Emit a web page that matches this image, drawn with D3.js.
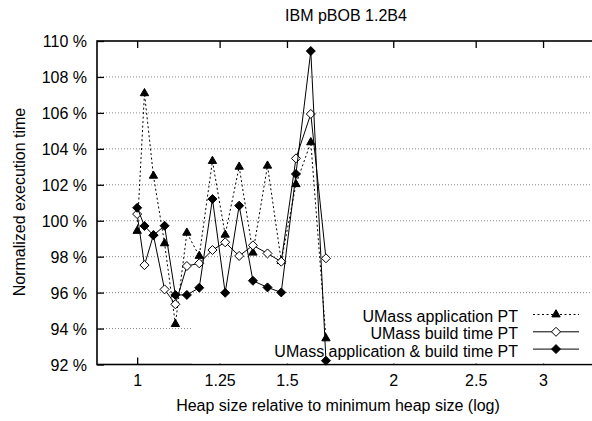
<!DOCTYPE html>
<html>
<head>
<meta charset="utf-8">
<script src="https://cdn.jsdelivr.net/npm/d3@7"></script>
<style>
  body { margin: 0; background: #fff; }
  text { font-family: "Liberation Sans", Arial, Helvetica, sans-serif; font-size: 16px; fill: #000; }
</style>
</head>
<body>
<div id="chart"></div>
<script>
// heap size relative to minimum (x values)
var heap = [1.0, 1.02, 1.045, 1.077, 1.109, 1.144, 1.183, 1.226, 1.269, 1.318, 1.368, 1.423, 1.477, 1.537, 1.600, 1.667];

// normalized execution time (%)
var appPT   = [99.43, 107.09, 102.5, 98.74, 94.25, 99.33, 98.04, 103.32, 99.22, 103.0, 98.22, 103.06, 97.75, 102.03, 104.36, 93.45];
var buildPT = [100.37, 97.53, 99.2, 96.18, 95.35, 97.48, 97.63, 98.37, 98.8, 98.04, 98.63, 98.18, 97.72, 103.47, 105.94, 97.91];
var bothPT  = [100.72, 99.71, 99.19, 99.72, 95.87, 95.87, 96.27, 101.21, 95.99, 100.84, 96.66, 96.29, 96.01, 102.6, 109.44, 92.21];

var seriesNames = ["UMass application PT", "UMass build time PT", "UMass application & build time PT"];
var xTicks = [1, 1.25, 1.5, 2, 2.5, 3];
var yTicks = [92, 94, 96, 98, 100, 102, 104, 106, 108, 110];
var gridTicks = [94, 96, 98, 100, 102, 104, 106, 108];

var W = 592, H = 421;
var plotL = 97, plotR = 600, plotT = 41, plotB = 364.5;

var svg = d3.select("#chart")
    .append("svg")
    .attr("width", W)
    .attr("height", H);

var x = d3.scaleLog()
    .domain([0.897, 3.5])
    .range([plotL, plotR]);

var y = d3.scaleLinear()
    .domain([92, 110])
    .range([plotB, plotT]);

// dotted grid lines
svg.append("g")
    .selectAll("line")
    .data(gridTicks)
    .enter()
    .append("line")
    .attr("x1", plotL)
    .attr("x2", plotR)
    .attr("y1", d => y(d))
    .attr("y2", d => y(d))
    .style("stroke", "#888")
    .style("stroke-width", 1)
    .style("stroke-dasharray", "1,2");

// left axis with inward ticks
var yAxis = svg.append("g")
    .attr("transform", "translate(" + plotL + ",0)")
    .call(d3.axisLeft(y).tickValues(yTicks).tickFormat(d => d + " %").tickSize(-7).tickPadding(10));
yAxis.select(".domain").remove();
yAxis.selectAll("line").style("stroke", "#000").style("stroke-width", 1.3);
yAxis.selectAll("text").attr("font-size", null).attr("font-family", null).attr("dy", "0.37em");

// bottom axis
var xAxis = svg.append("g")
    .attr("transform", "translate(0," + plotB + ")")
    .call(d3.axisBottom(x).tickValues(xTicks).tickFormat(d3.format("")).tickSize(-7).tickPadding(10));
xAxis.select(".domain").remove();
xAxis.selectAll("line").style("stroke", "#000").style("stroke-width", 1.3);
xAxis.selectAll("text").attr("font-size", null).attr("font-family", null);

// top axis (ticks only)
var xTop = svg.append("g")
    .attr("transform", "translate(0," + plotT + ")")
    .call(d3.axisTop(x).tickValues(xTicks).tickFormat("").tickSize(-7));
xTop.select(".domain").remove();
xTop.selectAll("line").style("stroke", "#000").style("stroke-width", 1.3);

// frame
svg.append("rect")
    .attr("x", plotL)
    .attr("y", plotT)
    .attr("width", plotR - plotL)
    .attr("height", plotB - plotT)
    .style("fill", "none")
    .style("stroke", "#000")
    .style("stroke-width", 1.6);

// legend background
svg.append("rect")
    .attr("x", 192)
    .attr("y", 306)
    .attr("width", plotR - 192)
    .attr("height", plotB - 307)
    .style("fill", "#fff");

// titles
svg.append("text")
    .attr("x", 346)
    .attr("y", 21)
    .attr("text-anchor", "middle")
    .text("IBM pBOB 1.2B4");

svg.append("text")
    .attr("x", 338)
    .attr("y", 411)
    .attr("text-anchor", "middle")
    .text("Heap size relative to minimum heap size (log)");

svg.append("text")
    .attr("transform", "rotate(-90)")
    .attr("x", -202)
    .attr("y", 25)
    .attr("text-anchor", "middle")
    .text("Normalized execution time");

var diamond = "M0,-4.5L4.5,0L0,4.5L-4.5,0Z";
var triangle = d3.symbol().type(d3.symbolTriangle).size(30)();

var series = [
    { name: seriesNames[0], values: appPT, dash: "2,2.5", marker: triangle, fill: "#000" },
    { name: seriesNames[1], values: buildPT, dash: null, marker: diamond, fill: "#fff" },
    { name: seriesNames[2], values: bothPT, dash: null, marker: diamond, fill: "#000" }
];

var line = d3.line()
    .x(d => x(d[0]))
    .y(d => y(d[1]));

series.forEach(function (s, i) {
    var pts = heap.map((h, j) => [h, s.values[j]]);

    svg.append("path")
        .datum(pts)
        .attr("d", line)
        .style("fill", "none")
        .style("stroke", "#000")
        .style("stroke-width", 1)
        .style("stroke-dasharray", s.dash);

    svg.append("g")
        .selectAll("path")
        .data(pts)
        .enter()
        .append("path")
        .attr("d", s.marker)
        .attr("transform", d => "translate(" + x(d[0]) + "," + y(d[1]) + ")")
        .style("fill", s.fill)
        .style("stroke", "#000")
        .style("stroke-width", 1);

    // legend entry
    var ly = 314.5 + i * 17.3;
    svg.append("text")
        .attr("x", 518)
        .attr("y", ly + 7.5)
        .attr("text-anchor", "end")
        .text(s.name);
    svg.append("line")
        .attr("x1", 533)
        .attr("x2", 579)
        .attr("y1", ly)
        .attr("y2", ly)
        .style("stroke", "#000")
        .style("stroke-width", 1)
        .style("stroke-dasharray", s.dash);
    svg.append("path")
        .attr("d", s.marker)
        .attr("transform", "translate(556," + ly + ")")
        .style("fill", s.fill)
        .style("stroke", "#000")
        .style("stroke-width", 1);
});
</script>
</body>
</html>
